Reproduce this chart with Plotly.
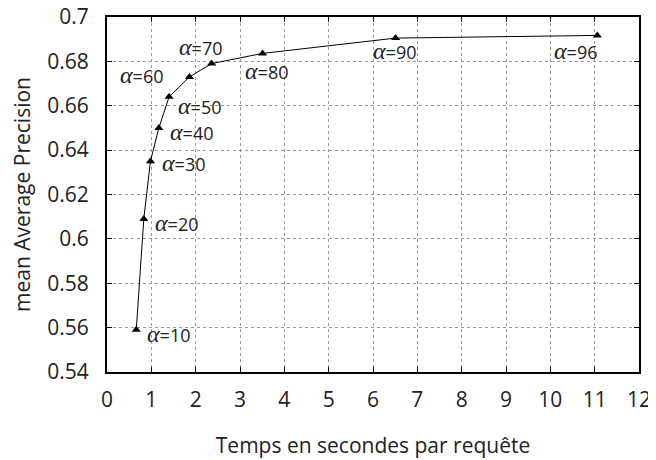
import plotly.graph_objects as go

# Data
alphas = [10, 20, 30, 40, 50, 60, 70, 80, 90, 96]
temps = [0.66, 0.83, 0.98, 1.17, 1.40, 1.86, 2.36, 3.51, 6.51, 11.06]
map_vals = [0.559, 0.609, 0.635, 0.650, 0.664, 0.673, 0.679, 0.6836, 0.6905, 0.6917]

x_ticks = list(range(0, 13))
y_ticks = [0.54, 0.56, 0.58, 0.6, 0.62, 0.64, 0.66, 0.68, 0.7]
y_tick_labels = ["0.54", "0.56", "0.58", "0.6", "0.62", "0.64", "0.66", "0.68", "0.7"]

# label placement: (xanchor, xshift, yshift)
label_pos = [
    ("left", 9, -4),
    ("left", 9, -4),
    ("left", 10, -2),
    ("left", 9, -4),
    ("left", 7, -9),
    ("right", -23, 2),
    ("center", -11, 17),
    ("center", 4, -18),
    ("center", -1, -13),
    ("center", -21, -16),
]

FONT = "Open Sans"
TXT = "#222"

fig = go.Figure()
fig.add_trace(go.Scatter(
    x=temps, y=map_vals, mode="lines+markers",
    line=dict(color="black", width=1),
    marker=dict(symbol="triangle-up", size=8, color="black"),
    showlegend=False, hoverinfo="skip",
))

for a, xv, yv, (anc, xs, ys) in zip(alphas, temps, map_vals, label_pos):
    fig.add_annotation(
        x=xv, y=yv, xref="x", yref="y",
        text=f"<span style='font-family:Liberation Serif;font-size:24px'><i>\u03b1</i></span>={a}",
        showarrow=False, xanchor=anc, yanchor="middle",
        xshift=xs, yshift=ys,
        font=dict(family=FONT, size=18, color=TXT),
    )

axis_common = dict(
    showline=True, linecolor="black", linewidth=2, mirror="ticks",
    ticks="inside", ticklen=5, tickcolor="black", tickwidth=1,
    showgrid=True, gridcolor="#999", griddash="dot", gridwidth=1,
    zeroline=False, automargin=False, ticklabeloverflow="allow",
    tickfont=dict(family=FONT, size=21, color=TXT),
)

fig.update_xaxes(
    range=[0, 12], tickvals=x_ticks, ticktext=[str(t) for t in x_ticks],
    ticklabelstandoff=8,
    title=dict(text="Temps en secondes par requête", font=dict(family=FONT, size=21, color=TXT), standoff=26),
    **axis_common,
)
fig.update_yaxes(
    range=[0.54, 0.7], tickvals=y_ticks, ticktext=y_tick_labels,
    ticklabelstandoff=12,
    title=dict(text="mean Average Precision", font=dict(family=FONT, size=21, color=TXT), standoff=13),
    **axis_common,
)

# page body adds an 8px offset; size the figure so the plot area lands where the reference has it
fig.update_layout(
    width=648, height=452,
    margin=dict(l=99, r=17, t=9, b=88),
    plot_bgcolor="white", paper_bgcolor="white",
)

fig.write_html("out.html")
